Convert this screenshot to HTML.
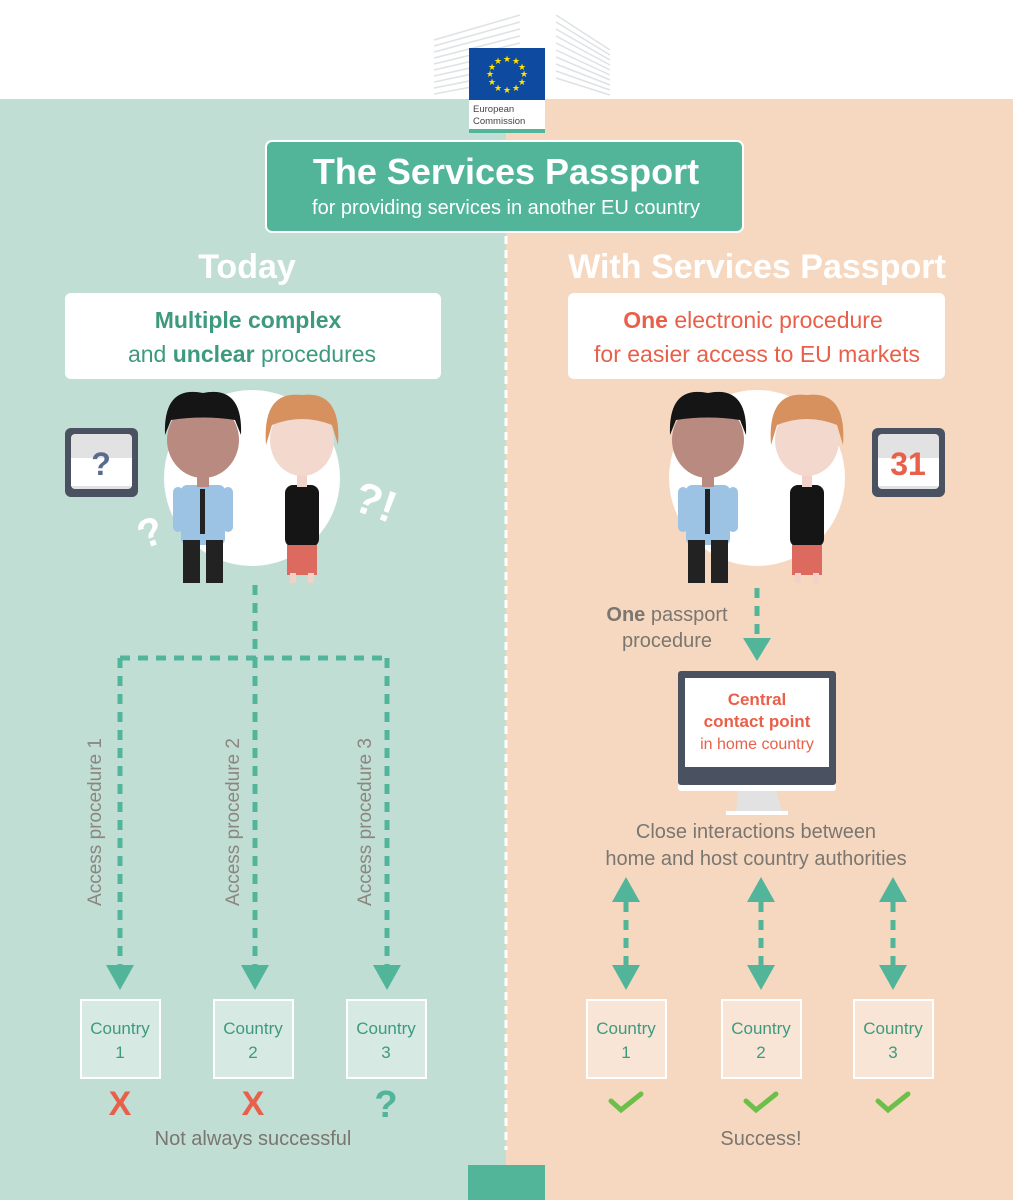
<!DOCTYPE html>
<html><head><meta charset="utf-8"><style>
html,body{margin:0;padding:0;background:#fff}
svg{display:block}
text{font-family:"Liberation Sans",sans-serif}
</style></head><body>
<svg width="1013" height="1200" viewBox="0 0 1013 1200" xmlns="http://www.w3.org/2000/svg">
<defs>
<g id="man">
 <rect x="-22" y="100" width="44" height="60" rx="6" fill="#9cc3e4"/>
 <rect x="-30" y="102" width="10" height="45" rx="5" fill="#9cc3e4"/>
 <rect x="20" y="102" width="10" height="45" rx="5" fill="#9cc3e4"/>
 <rect x="-3" y="104" width="5" height="45" fill="#222"/>
 <rect x="-20" y="155" width="17" height="43" fill="#222"/>
 <rect x="3" y="155" width="17" height="43" fill="#222"/>
 <rect x="-6" y="82" width="12" height="20" fill="#b98a80"/>
 <ellipse cx="0" cy="55" rx="36" ry="38" fill="#b98a80"/>
 <path d="M-38 50 Q-40 0 0 8 Q40 0 38 50 L32 35 Q0 30 -32 35 Z" fill="#151515"/>
</g>
<g id="woman">
 <rect x="-17" y="100" width="34" height="62" rx="8" fill="#151515"/>
 <rect x="-15" y="160" width="30" height="30" fill="#dd6a5f"/>
 <rect x="-12" y="188" width="6" height="10" fill="#f1d1c8"/>
 <rect x="6" y="188" width="6" height="10" fill="#f1d1c8"/>
 <rect x="-5" y="84" width="10" height="18" fill="#f1d1c8"/>
 <ellipse cx="0" cy="55" rx="32" ry="36" fill="#f3d8ce"/>
 <path d="M-36 60 Q-40 5 0 10 Q40 5 36 60 L30 40 Q0 28 -30 40 Z" fill="#d6915f"/>
</g>
</defs>
<rect x="0" y="99" width="506" height="1101" fill="#c1ded5"/>
<rect x="506" y="99" width="507" height="1101" fill="#f6d8c0"/>
<g stroke="#dfe2e4" stroke-width="1.5">
<line x1="434" y1="40" x2="520" y2="15"/><line x1="434" y1="46" x2="520" y2="22"/><line x1="434" y1="52" x2="520" y2="29"/><line x1="434" y1="58" x2="520" y2="36"/><line x1="434" y1="64" x2="520" y2="43"/><line x1="434" y1="70" x2="520" y2="50"/><line x1="434" y1="76" x2="520" y2="57"/><line x1="434" y1="82" x2="520" y2="64"/><line x1="434" y1="88" x2="520" y2="71"/><line x1="434" y1="94" x2="520" y2="78"/>
<line x1="556" y1="15" x2="610" y2="50"/><line x1="556" y1="22" x2="610" y2="55"/><line x1="556" y1="29" x2="610" y2="60"/><line x1="556" y1="36" x2="610" y2="65"/><line x1="556" y1="43" x2="610" y2="70"/><line x1="556" y1="50" x2="610" y2="75"/><line x1="556" y1="57" x2="610" y2="80"/><line x1="556" y1="64" x2="610" y2="85"/><line x1="556" y1="71" x2="610" y2="90"/><line x1="556" y1="78" x2="610" y2="95"/>
</g>
<rect x="469" y="48" width="76" height="52" fill="#0e4aa0"/>
<g fill="#ffe200" font-size="9" text-anchor="middle">
<text x="507" y="62">★</text><text x="516" y="64">★</text><text x="522" y="70">★</text><text x="524" y="77">★</text><text x="522" y="85">★</text><text x="516" y="91">★</text><text x="507" y="93">★</text><text x="498" y="91">★</text><text x="492" y="85">★</text><text x="490" y="77">★</text><text x="492" y="70">★</text><text x="498" y="64">★</text>
</g>
<rect x="469" y="100" width="76" height="33" fill="#fff"/>
<rect x="469" y="129" width="76" height="4" fill="#52b59a"/>
<text x="473" y="112" font-size="9.5" fill="#444">European</text>
<text x="473" y="124" font-size="9.5" fill="#444">Commission</text>
<rect x="266" y="141" width="477" height="91" rx="6" fill="#52b59a" stroke="#fff" stroke-width="2"/>
<text x="506" y="184" font-size="36" font-weight="bold" fill="#fff" text-anchor="middle">The Services Passport</text>
<text x="506" y="214" font-size="20" fill="#fff" text-anchor="middle">for providing services in another EU country</text>
<line x1="506" y1="236" x2="506" y2="1150" stroke="#fff" stroke-width="3" stroke-dasharray="8,6"/>
<text x="247" y="278" font-size="34" font-weight="bold" fill="#fff" text-anchor="middle">Today</text>
<text x="757" y="278" font-size="34" font-weight="bold" fill="#fff" text-anchor="middle">With Services Passport</text>
<rect x="65" y="293" width="376" height="86" rx="6" fill="#fff"/>
<rect x="568" y="293" width="377" height="86" rx="6" fill="#fff"/>
<text x="248" y="328" font-size="23" font-weight="bold" fill="#3d9a7e" text-anchor="middle">Multiple complex</text>
<text x="252" y="362" font-size="23" fill="#3d9a7e" text-anchor="middle">and <tspan font-weight="bold">unclear</tspan> procedures</text>
<text x="753" y="328" font-size="23" fill="#e8604a" text-anchor="middle"><tspan font-weight="bold">One</tspan> electronic procedure</text>
<text x="757" y="362" font-size="23" fill="#e8604a" text-anchor="middle">for easier access to EU markets</text>
<circle cx="252" cy="478" r="88" fill="#fff"/>
<circle cx="757" cy="478" r="88" fill="#fff"/>
<use href="#man" x="203" y="385"/>
<use href="#woman" x="302" y="385"/>
<use href="#man" x="708" y="385"/>
<use href="#woman" x="807" y="385"/>
<rect x="65" y="428" width="73" height="69" rx="6" fill="#4a5161"/>
<rect x="71" y="434" width="61" height="55" rx="4" fill="#e2e2e2"/>
<rect x="71" y="458" width="61" height="28" fill="#fff"/>
<text x="101" y="475" font-size="32" font-weight="bold" fill="#5a6b8c" text-anchor="middle">?</text>
<rect x="872" y="428" width="73" height="69" rx="6" fill="#4a5161"/>
<rect x="878" y="434" width="61" height="55" rx="4" fill="#e2e2e2"/>
<rect x="878" y="458" width="61" height="28" fill="#fff"/>
<text x="908" y="475" font-size="32" font-weight="bold" fill="#e8604a" text-anchor="middle">31</text>
<text x="140" y="550" font-size="40" font-weight="bold" fill="#fff" transform="rotate(-20 140 540)">?</text>
<text x="355" y="515" font-size="44" font-weight="bold" fill="#fff" transform="rotate(20 370 500)">?!</text>
<g stroke="#52b59a" stroke-width="5" stroke-dasharray="10,8" fill="none">
<line x1="255" y1="585" x2="255" y2="658"/>
<line x1="120" y1="658" x2="387" y2="658"/>
<line x1="120" y1="658" x2="120" y2="965"/>
<line x1="255" y1="658" x2="255" y2="965"/>
<line x1="387" y1="658" x2="387" y2="965"/>
<line x1="757" y1="588" x2="757" y2="640"/>
<line x1="626" y1="902" x2="626" y2="965"/>
<line x1="761" y1="902" x2="761" y2="965"/>
<line x1="893" y1="902" x2="893" y2="965"/>
</g>
<g fill="#52b59a">
<polygon points="106,965 134,965 120,990"/><polygon points="241,965 269,965 255,990"/><polygon points="373,965 401,965 387,990"/>
<polygon points="743,638 771,638 757,661"/>
<polygon points="612,965 640,965 626,990"/><polygon points="747,965 775,965 761,990"/><polygon points="879,965 907,965 893,990"/>
<polygon points="612,902 640,902 626,877"/><polygon points="747,902 775,902 761,877"/><polygon points="879,902 907,902 893,877"/>
</g>
<g font-size="19" fill="#8a8680" text-anchor="middle">
<text transform="translate(101 822) rotate(-90)">Access procedure 1</text>
<text transform="translate(239 822) rotate(-90)">Access procedure 2</text>
<text transform="translate(371 822) rotate(-90)">Access procedure 3</text>
</g>
<g fill="#fff" fill-opacity="0.35" stroke="#fff" stroke-width="2">
<rect x="81" y="1000" width="79" height="78"/><rect x="214" y="1000" width="79" height="78"/><rect x="347" y="1000" width="79" height="78"/>
<rect x="587" y="1000" width="79" height="78"/><rect x="722" y="1000" width="79" height="78"/><rect x="854" y="1000" width="79" height="78"/>
</g>
<g font-size="17" fill="#3d9a7e" text-anchor="middle">
<text x="120" y="1034">Country</text><text x="120" y="1058">1</text>
<text x="253" y="1034">Country</text><text x="253" y="1058">2</text>
<text x="386" y="1034">Country</text><text x="386" y="1058">3</text>
<text x="626" y="1034">Country</text><text x="626" y="1058">1</text>
<text x="761" y="1034">Country</text><text x="761" y="1058">2</text>
<text x="893" y="1034">Country</text><text x="893" y="1058">3</text>
</g>
<text x="120" y="1115" font-size="34" font-weight="bold" fill="#e8604a" text-anchor="middle">X</text>
<text x="253" y="1115" font-size="34" font-weight="bold" fill="#e8604a" text-anchor="middle">X</text>
<text x="386" y="1117" font-size="38" font-weight="bold" fill="#52b59a" text-anchor="middle">?</text>
<g stroke="#6cc04a" stroke-width="5" fill="none" stroke-linecap="round">
<polyline points="611,1101 621,1110 641,1094"/><polyline points="746,1101 756,1110 776,1094"/><polyline points="878,1101 888,1110 908,1094"/>
</g>
<text x="253" y="1145" font-size="20" fill="#7a7670" text-anchor="middle">Not always successful</text>
<text x="761" y="1145" font-size="20" fill="#7a7670" text-anchor="middle">Success!</text>
<text x="667" y="621" font-size="20" fill="#7a7670" text-anchor="middle"><tspan font-weight="bold">One</tspan> passport</text>
<text x="667" y="647" font-size="20" fill="#7a7670" text-anchor="middle">procedure</text>
<polygon points="738,790 776,790 782,812 736,812" fill="#e2e2e2"/>
<rect x="726" y="811" width="62" height="4" fill="#fff"/>
<rect x="678" y="783" width="158" height="8" rx="3" fill="#fff"/>
<rect x="678" y="671" width="158" height="114" rx="3" fill="#4a5161"/>
<rect x="685" y="678" width="144" height="89" fill="#fff"/>
<text x="757" y="705" font-size="17" font-weight="bold" fill="#e8604a" text-anchor="middle">Central</text>
<text x="757" y="727" font-size="17" font-weight="bold" fill="#e8604a" text-anchor="middle">contact point</text>
<text x="757" y="749" font-size="16" fill="#e8604a" text-anchor="middle">in home country</text>
<text x="756" y="838" font-size="20" fill="#7a7670" text-anchor="middle">Close interactions between</text>
<text x="756" y="865" font-size="20" fill="#7a7670" text-anchor="middle">home and host country authorities</text>
<rect x="468" y="1165" width="77" height="35" fill="#52b59a"/>
</svg>
</body></html>
